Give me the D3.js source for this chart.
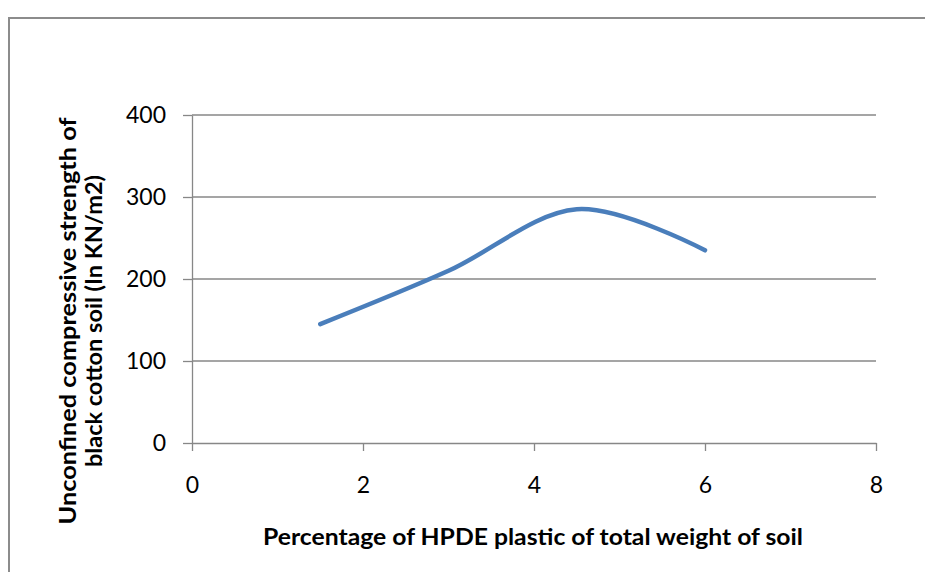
<!DOCTYPE html>
<html><head><meta charset="utf-8">
<script src="https://cdn.jsdelivr.net/npm/d3@7"></script>
<style>body{margin:0;background:#fff}svg{display:block}</style>
</head><body>
<script>
const xValues = [1.5, 3, 4.5, 6];
const yValues = [145, 210, 285, 235];
const xTicks = [0, 2, 4, 6, 8];
const yTicks = [0, 100, 200, 300, 400];
const xTitle = "Percentage of HPDE plastic of total weight of soil";
const yTitleLines = ["Unconfined compressive strength of", "black cotton soil (In KN/m2)"];

const W = 925, H = 572;
const svg = d3.select("body").append("svg").attr("width", W).attr("height", H);
const font = "Lato, 'Open Sans', sans-serif";

// outer border
svg.append("rect").attr("x", 9).attr("y", 18).attr("width", W + 20).attr("height", H + 20)
  .attr("fill", "none").attr("stroke", "#8c8c8c").attr("stroke-width", 2);

const x = d3.scaleLinear().domain([0, 8]).range([192, 876]);
const y = d3.scaleLinear().domain([0, 400]).range([443, 115]);

// gridlines
svg.append("g").selectAll("line").data(yTicks.filter(d => d > 0)).join("line")
  .attr("x1", x(0)).attr("x2", x(8)).attr("y1", d => y(d)).attr("y2", d => y(d))
  .attr("stroke", "#878787").attr("stroke-width", 1.3);

// y axis
const ya = svg.append("g").attr("transform", `translate(${x(0)},0)`)
  .call(d3.axisLeft(y).tickValues(yTicks).tickSize(9).tickPadding(17).tickSizeOuter(0));
ya.select(".domain").attr("stroke", "#878787").attr("stroke-width", 1.3);
ya.selectAll(".tick line").attr("stroke", "#878787").attr("stroke-width", 1.3);
ya.selectAll("text").attr("font-family", font).attr("font-size", 23).attr("fill", "#000");

// x axis
const xa = svg.append("g").attr("transform", `translate(0,${y(0)})`)
  .call(d3.axisBottom(x).tickValues(xTicks).tickSize(8).tickPadding(26).tickSizeOuter(0));
xa.select(".domain").attr("stroke", "#878787").attr("stroke-width", 1.3);
xa.selectAll(".tick line").attr("stroke", "#878787").attr("stroke-width", 1.3);
xa.selectAll("text").attr("font-family", font).attr("font-size", 23).attr("fill", "#000");

// line
const pts = xValues.map((v, i) => [v, yValues[i]]);
svg.append("path").datum(pts)
  .attr("d", d3.line().x(d => x(d[0])).y(d => y(d[1])).curve(d3.curveCatmullRom.alpha(0)))
  .attr("fill", "none").attr("stroke", "#4a7ebb").attr("stroke-width", 4.5).attr("stroke-linecap", "round");

// x title
svg.append("text").attr("x", 533).attr("y", 545).attr("text-anchor", "middle")
  .attr("font-family", font).attr("font-weight", "bold").attr("font-size", 22)
  .attr("textLength", 540).attr("lengthAdjust", "spacingAndGlyphs").text(xTitle);

// y title
const yt = svg.append("text").attr("transform", "translate(0,321) rotate(-90)")
  .attr("text-anchor", "middle").attr("font-family", font).attr("font-weight", "bold").attr("font-size", 22);
yt.append("tspan").attr("x", 0).attr("y", 76).attr("textLength", 407).attr("lengthAdjust", "spacingAndGlyphs").text(yTitleLines[0]);
yt.append("tspan").attr("x", 0).attr("y", 102).attr("textLength", 292).attr("lengthAdjust", "spacingAndGlyphs").text(yTitleLines[1]);
</script>
</body></html>
